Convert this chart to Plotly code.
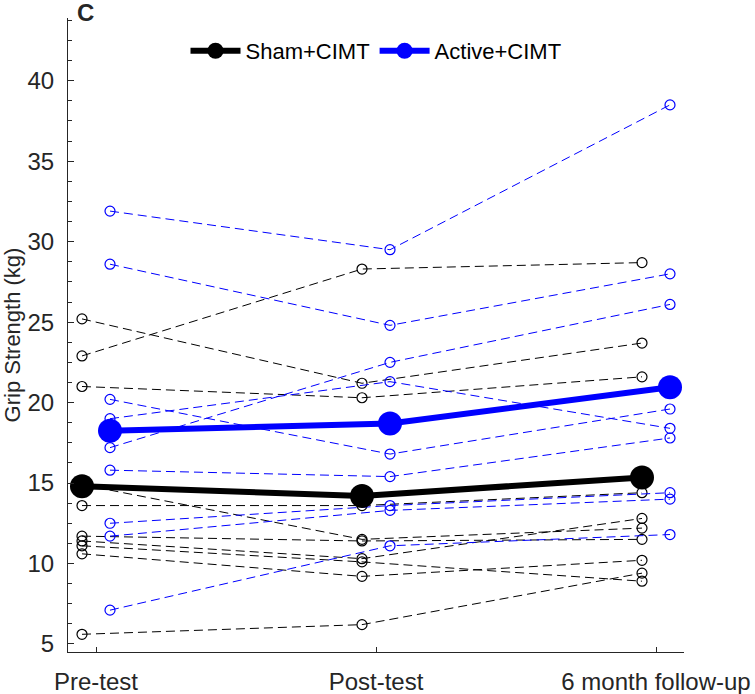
import plotly.graph_objects as go

# ---- data ----
timepoints = ["Pre-test", "Post-test", "6 month follow-up"]
tick_pos = [1, 2, 3]

sham_pre = [25.2, 22.9, 21.0, 14.9, 13.6, 11.7, 11.4, 11.1, 10.6, 5.6]
sham_post = [21.2, 28.3, 20.3, 11.5, 13.6, 11.4, 10.3, 10.1, 9.2, 6.2]
sham_6m = [23.7, 28.7, 21.6, 12.2, 14.4, 11.5, 12.8, 8.9, 10.2, 9.4]

active_pre = [31.9, 28.6, 20.2, 19.0, 17.2, 15.8, 12.5, 11.7, 7.1]
active_post = [29.5, 24.8, 16.8, 21.3, 22.5, 15.4, 13.6, 13.3, 11.1]
active_6m = [38.5, 28.0, 19.6, 18.4, 26.1, 17.8, 14.4, 14.0, 11.8]

sham_mean = [14.8, 14.2, 15.35]
active_mean = [18.25, 18.7, 20.95]

offset = 0.05
AX = "#262626"
FONT = "Liberation Sans, Arial, Helvetica, sans-serif"

fig = go.Figure()

x_sham = [p - offset for p in tick_pos]
x_act = [p + offset for p in tick_pos]

for a, b, c in zip(sham_pre, sham_post, sham_6m):
    fig.add_trace(go.Scatter(
        x=x_sham, y=[a, b, c], mode="lines+markers",
        line=dict(color="black", width=1, dash="9px,5px"),
        marker=dict(symbol="circle-open", size=10, color="black", line=dict(width=1.2)),
        showlegend=False, hoverinfo="skip"))

for a, b, c in zip(active_pre, active_post, active_6m):
    fig.add_trace(go.Scatter(
        x=x_act, y=[a, b, c], mode="lines+markers",
        line=dict(color="blue", width=1, dash="9px,5px"),
        marker=dict(symbol="circle-open", size=10, color="blue", line=dict(width=1.2)),
        showlegend=False, hoverinfo="skip"))

fig.add_trace(go.Scatter(
    x=x_sham, y=sham_mean, mode="lines+markers", name="Sham+CIMT",
    line=dict(color="black", width=6),
    marker=dict(symbol="circle", size=24, color="black")))
fig.add_trace(go.Scatter(
    x=x_act, y=active_mean, mode="lines+markers", name="Active+CIMT",
    line=dict(color="blue", width=6),
    marker=dict(symbol="circle", size=24, color="blue")))

fig.update_layout(
    width=755, height=694, autosize=False,
    margin=dict(l=68, r=71, t=18, b=42),
    paper_bgcolor="white", plot_bgcolor="white",
    font=dict(family=FONT, color=AX),
    legend=dict(orientation="h", x=0.5, y=0.948, xanchor="center", yanchor="middle",
                font=dict(size=22, color="black", family=FONT), itemwidth=50,
                bgcolor="rgba(0,0,0,0)", traceorder="normal"),
    xaxis=dict(range=[0.9, 3.1], tickvals=tick_pos, ticktext=timepoints,
               ticks="inside", ticklen=5, tickcolor=AX, showline=True, linecolor=AX,
               linewidth=1, showgrid=False, zeroline=False, ticklabelstandoff=8,
               automargin=False, ticklabeloverflow="allow",
               tickfont=dict(size=24, color=AX)),
    yaxis=dict(range=[4.5, 43.9], tickvals=[5, 10, 15, 20, 25, 30, 35, 40],
               ticks="inside", ticklen=6, tickcolor=AX, showline=True, linecolor=AX,
               linewidth=1, showgrid=False, zeroline=False, ticklabelstandoff=8,
               automargin=False,
               minor=dict(tick0=5, dtick=1.25, ticks="inside", ticklen=4, tickcolor=AX, showgrid=False),
               tickfont=dict(size=24, color=AX),
               title=dict(text="Grip Strength (kg)", font=dict(size=22, color=AX), standoff=11)),
    annotations=[dict(text="<b>C</b>", xref="paper", yref="paper", x=0.0276, y=1.0087,
                      xanchor="center", yanchor="middle", showarrow=False,
                      font=dict(size=24, color=AX, family=FONT))],
)

fig.write_html("out.html", config={"displayModeBar": False},
               post_script="document.body.style.margin='0px';document.body.style.overflow='hidden';")
